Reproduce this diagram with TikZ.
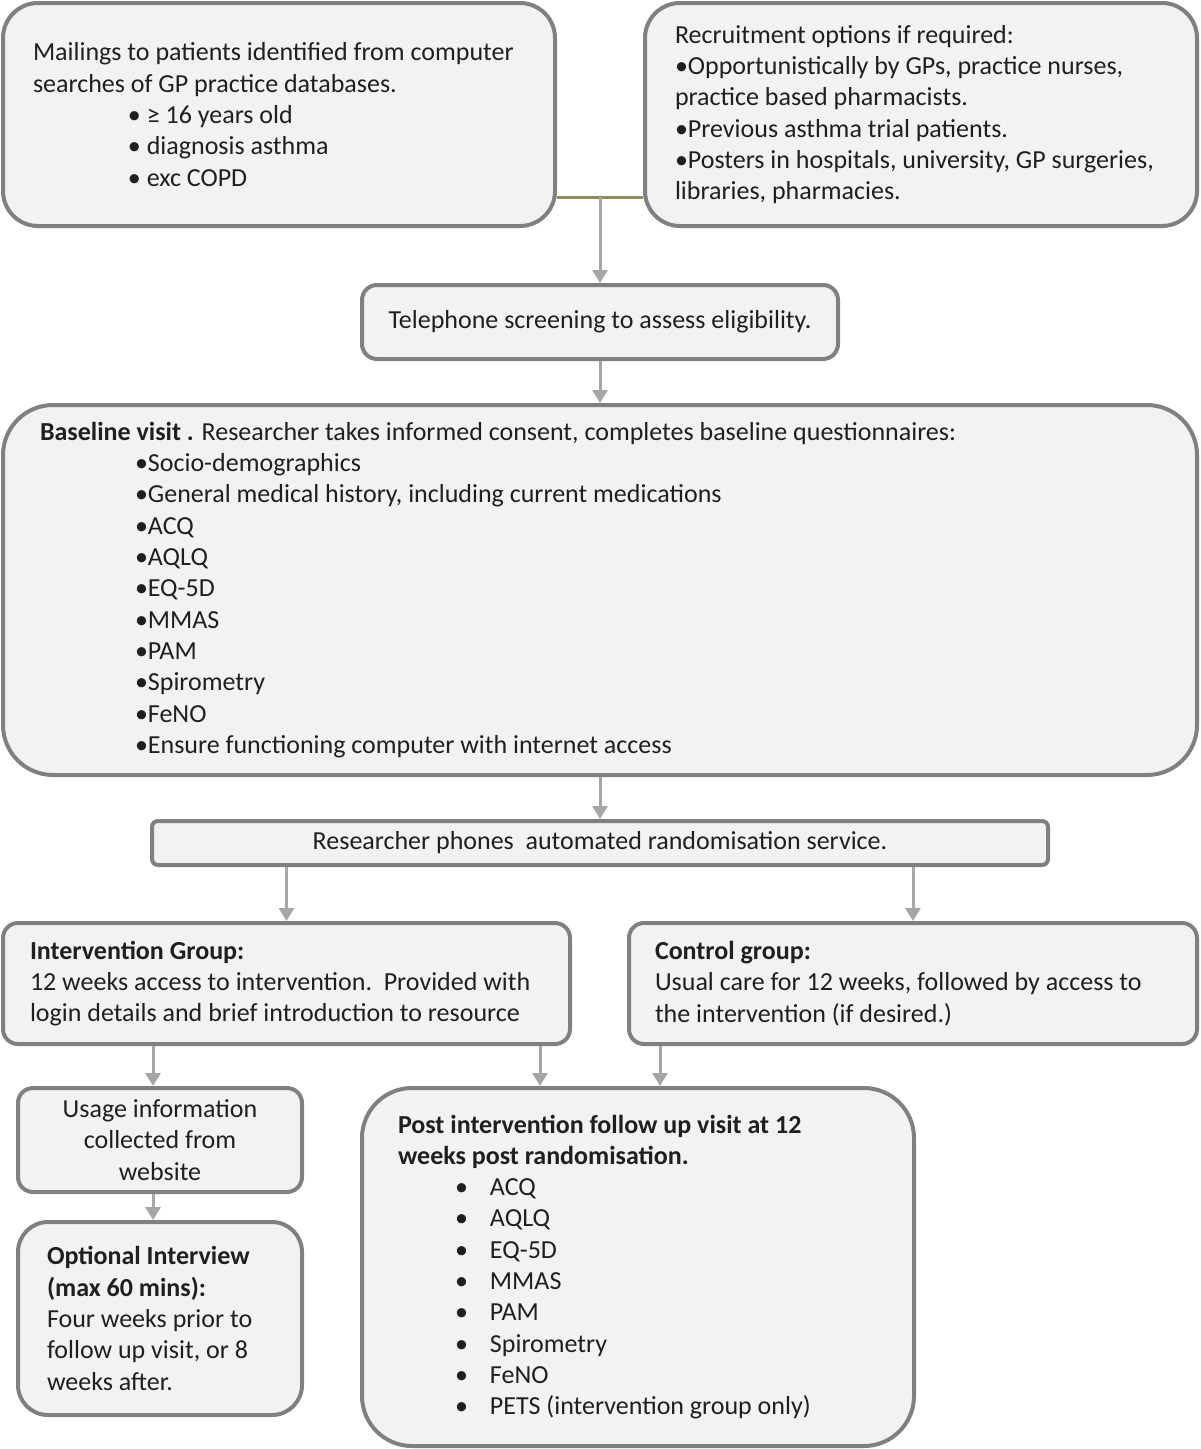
\documentclass[tikz,border=0pt]{standalone}
\usepackage{fontspec}
\setmainfont{Carlito}
\usepackage{tikz}
\usetikzlibrary{arrows.meta}
\definecolor{boxline}{RGB}{128,128,128}
\definecolor{boxfill}{RGB}{242,242,242}
\definecolor{arrowgray}{RGB}{166,166,166}
\definecolor{joinolive}{RGB}{148,138,84}
\tikzstyle{stage} = [rectangle, draw=boxline, fill=boxfill, line width=4pt, inner ysep=2pt, text=black!88, font=\fontsize{26}{31.3}\selectfont, align=flush left]
\tikzstyle{arrow} = [color=arrowgray, line width=3pt, -{Triangle[length=13pt,width=15pt]}]

\begin{document}
\begin{tikzpicture}[x=1pt, y=-1pt]
\useasboundingbox (0,0) rectangle (1200,1449);
% recruitment
\node (mail) [stage, rounded corners=35pt, minimum width=552pt, minimum height=223pt, text width=492pt, inner xsep=30pt] at (279,114.5) {Mailings to patients identified from computer\\searches of GP practice databases.\\\hspace*{95pt}• ≥ 16 years old\\\hspace*{95pt}• diagnosis asthma\\\hspace*{95pt}• exc COPD};
\node (recruit) [stage, rounded corners=35pt, minimum width=552pt, minimum height=223pt, text width=492pt, inner xsep=30pt] at (921,114.5) {Recruitment options if required:\\•Opportunistically by GPs, practice nurses,\\practice based pharmacists.\\•Previous asthma trial patients.\\•Posters in hospitals, university, GP surgeries,\\libraries, pharmacies.};
\node (phone) [stage, rounded corners=15pt, minimum width=476pt, minimum height=74pt, align=center] at (600,322) {Telephone screening to assess eligibility.};
% baseline and randomisation
\node (base) [stage, rounded corners=50pt, minimum width=1194pt, minimum height=370pt, text width=1120pt, inner xsep=37pt] at (600,590) {\textbf{Baseline visit .} Researcher takes informed consent, completes baseline questionnaires:\\\hspace*{95pt}•Socio-demographics\\\hspace*{95pt}•General medical history, including current medications\\\hspace*{95pt}•ACQ\\\hspace*{95pt}•AQLQ\\\hspace*{95pt}•EQ-5D\\\hspace*{95pt}•MMAS\\\hspace*{95pt}•PAM\\\hspace*{95pt}•Spirometry\\\hspace*{95pt}•FeNO\\\hspace*{95pt}•Ensure functioning computer with internet access};
\node (rand) [stage, rounded corners=6pt, minimum width=896pt, minimum height=44pt, align=center] at (600,843) {Researcher phones\ \ automated randomisation service.};
% groups
\node (interv) [stage, rounded corners=15pt, minimum width=567pt, minimum height=121pt, text width=513pt, inner xsep=27pt] at (286.5,983.5) {\textbf{Intervention Group:}\\12 weeks access to intervention.\ \ Provided with\\login details and brief introduction to resource};
\node (control) [stage, rounded corners=15pt, minimum width=568pt, minimum height=121pt, text width=516pt, inner xsep=26pt] at (913,983.5) {\textbf{Control group:}\\Usual care for 12 weeks, followed by access to\\the intervention (if desired.)};
\node (usage) [stage, rounded corners=15pt, minimum width=284pt, minimum height=104pt, align=center] at (160,1140) {Usage information\\collected from\\website};
\node (interview) [stage, rounded corners=30pt, minimum width=284pt, minimum height=193pt, text width=226pt, inner xsep=29pt] at (160,1318.5) {\textbf{Optional Interview}\\\textbf{(max 60 mins):}\\Four weeks prior to\\follow up visit, or 8\\weeks after.};
\node (followup) [stage, rounded corners=50pt, minimum width=552pt, minimum height=358pt, text width=480pt, inner xsep=36pt] at (638,1267) {\textbf{Post intervention follow up visit at 12}\\\textbf{weeks post randomisation.}\\\hspace*{57pt}\makebox[35pt][l]{•}ACQ\\\hspace*{57pt}\makebox[35pt][l]{•}AQLQ\\\hspace*{57pt}\makebox[35pt][l]{•}EQ-5D\\\hspace*{57pt}\makebox[35pt][l]{•}MMAS\\\hspace*{57pt}\makebox[35pt][l]{•}PAM\\\hspace*{57pt}\makebox[35pt][l]{•}Spirometry\\\hspace*{57pt}\makebox[35pt][l]{•}FeNO\\\hspace*{57pt}\makebox[35pt][l]{•}PETS (intervention group only)};
% connectors
\coordinate (join) at (600,197);
\draw [joinolive, line width=3pt] (join -| mail.east) -- (join -| recruit.west);
\draw [arrow] (join) -- (phone);
\draw [arrow] (phone) -- (base);
\draw [arrow] (base) -- (rand);
\draw [arrow] (rand.south -| interv.north) -- (interv.north);
\draw [arrow] (rand.south -| control.north) -- (control.north);
\draw [arrow] (interv.south -| 153,0) -- (usage.north -| 153,0);
\draw [arrow] (usage.south -| 153,0) -- (interview.north -| 153,0);
\draw [arrow] (interv.south -| 540,0) -- (followup.north -| 540,0);
\draw [arrow] (control.south -| 660,0) -- (followup.north -| 660,0);
\end{tikzpicture}
\end{document}
